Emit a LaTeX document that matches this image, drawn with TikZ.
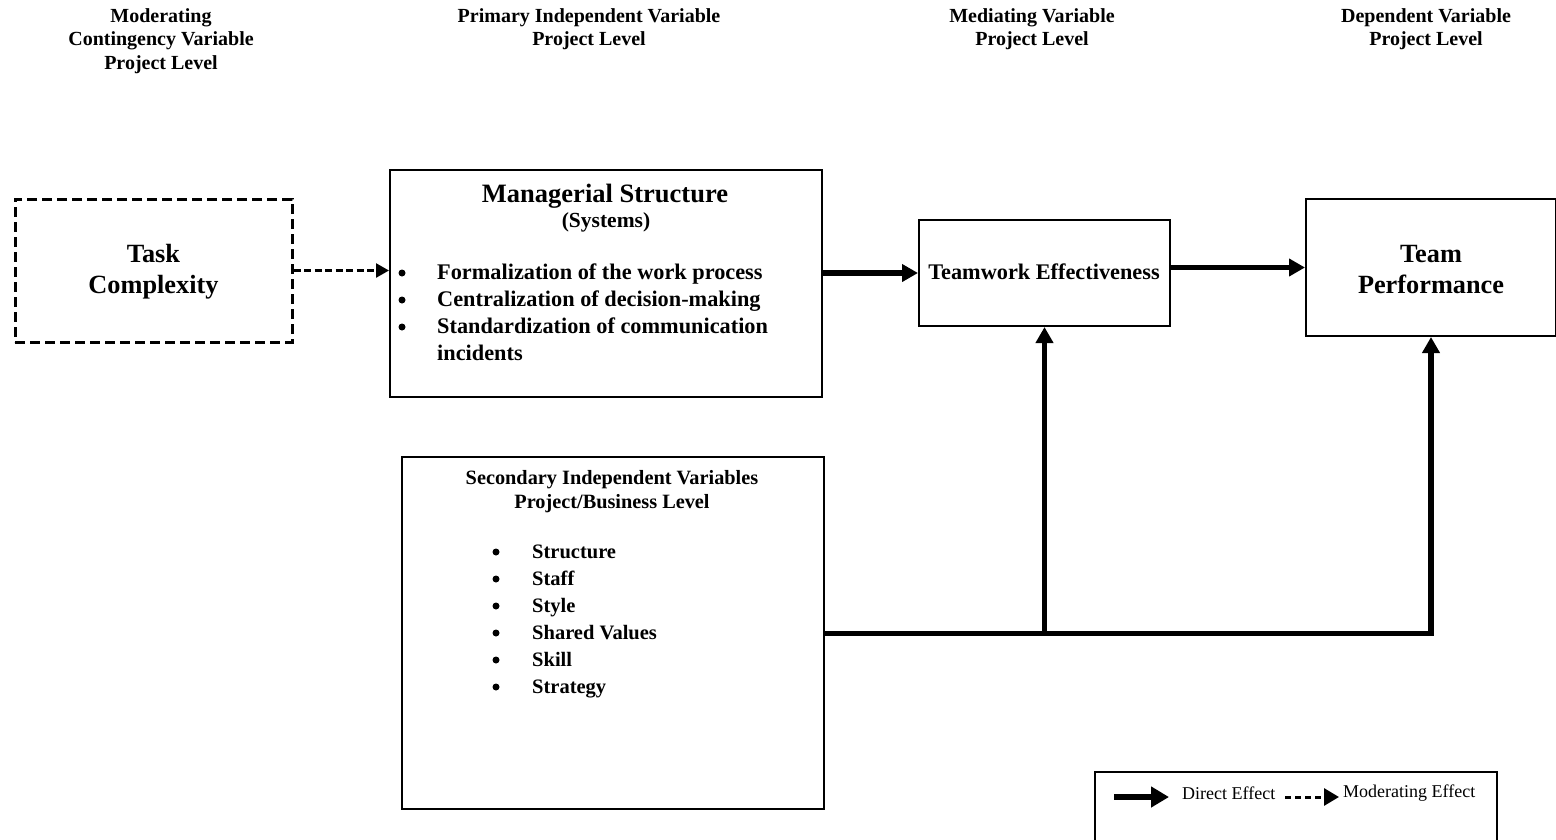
\documentclass[tikz,border=0pt]{standalone}
\usepackage{fontspec}
\setmainfont{Liberation Serif}
\usetikzlibrary{arrows.meta}
\begin{document}
\begin{tikzpicture}[x=1pt,y=-1pt,
  box/.style={draw, line width=2pt, inner sep=0pt},
  dbox/.style={draw, line width=3pt, dash pattern=on 10pt off 5pt, inner sep=0pt},
  hdr/.style={font=\bfseries\fontsize{20}{23.5}\selectfont, align=center, inner sep=0pt},
  big/.style={font=\bfseries\fontsize{26.3}{31}\selectfont, align=center, inner sep=0pt},
  item/.style={font=\bfseries\fontsize{22.3}{25}\selectfont, anchor=base west, inner sep=0pt},
  sitem/.style={font=\bfseries\fontsize{20.5}{24}\selectfont, anchor=base west, inner sep=0pt},
  bul/.style={circle, fill, inner sep=0pt, minimum size=7pt},
  legtext/.style={font=\fontsize{18}{21}\selectfont, anchor=west, inner sep=0pt},
  direct/.style={line width=5.5pt, -{Triangle[length=16pt,width=17pt]}},
  directline/.style={line width=5pt},
  moder/.style={line width=2.5pt, dash pattern=on 7pt off 3.5pt, -{Triangle[length=13pt,width=14pt]}},
  legmoder/.style={line width=3pt, dash pattern=on 6pt off 4pt, -{Triangle[length=15pt,width=17pt]}},
  legdirect/.style={line width=6pt, -{Triangle[length=18pt,width=20pt]}}
]
\useasboundingbox (0,0) rectangle (1556,839);

% column headings
\node[hdr] (h1) at (161,41) {Moderating\\Contingency Variable\\Project Level};
\node[hdr] (h2) at (589,29) {Primary Independent Variable\\Project Level};
\node[hdr] (h3) at (1032,29) {Mediating Variable\\Project Level};
\node[hdr] (h4) at (1426,29) {Dependent Variable\\Project Level};

% boxes
\node[dbox, minimum width=277pt, minimum height=143pt] (tc) at (153.5,270.5) {};
\node[big] (tct) at (153.5,272) {Task\\Complexity};

\node[box, minimum width=432pt, minimum height=227pt] (ms) at (606,283.5) {};
\node[font=\bfseries\fontsize{26.5}{30}\selectfont, inner sep=0pt] (mst) at (605,196) {Managerial Structure};
\node[font=\bfseries\fontsize{21.5}{24}\selectfont, inner sep=0pt] (mss) at (606,222) {(Systems)};
\node[bul] (mb1) at (402,273) {};
\node[bul] (mb2) at (402,300) {};
\node[bul] (mb3) at (402,327) {};
\node[item] (mi1) at (437,279) {Formalization of the work process};
\node[item] (mi2) at (437,306) {Centralization of decision-making};
\node[item] (mi3) at (437,333) {Standardization of communication};
\node[item] (mi4) at (437,360) {incidents};

\node[box, minimum width=251pt, minimum height=106pt] (tw) at (1044.5,273) {};
\node[font=\bfseries\fontsize{22.3}{25}\selectfont, inner sep=0pt, anchor=base] (twt) at (1044,279) {Teamwork Effectiveness};

\node[box, minimum width=250pt, minimum height=137pt] (tp) at (1431,267.5) {};
\node[big] (tpt) at (1431,270) {Team\\Performance};

\node[box, minimum width=422pt, minimum height=352pt] (sv) at (613,633) {};
\node[font=\bfseries\fontsize{20.3}{24}\selectfont, align=center, inner sep=0pt] (svt) at (612,492) {Secondary Independent Variables\\Project/Business Level};
\foreach \n/\t [count=\i] in {551/Structure,578/Staff,605/Style,632/Shared Values,659/Skill,686/Strategy}{
  \node[bul] (sb\i) at (496,\n+1) {};
  \node[sitem] (si\i) at (532,\n+7) {\t};
}

% legend
\node[box, minimum width=402pt, minimum height=90pt] (lg) at (1296,817) {};
\coordinate (la1) at (1114,797);
\coordinate (la2) at (1169,797);
\coordinate (lb1) at (1285,797);
\coordinate (lb2) at (1339,797);
\draw[legdirect] (la1) -- (la2);
\draw[legmoder] (lb1) -- (lb2);
\node[legtext] (l1) at (1182,793) {Direct Effect};
\node[legtext] (l2) at (1343,793) {Moderating Effect};

% connectors
\draw[moder] (tc.east) -- (tc.east -| ms.west);
\draw[direct] (tw.west -| ms.east) -- (tw.west);
\draw[direct] (tp.west -| tw.east) -- (tp.west);
\draw[directline] (sv.east) -- (sv.east -| tp.south);
\draw[direct] ([yshift=-2.5pt]sv.east -| tp.south) -- (tp.south);
\draw[direct] (sv.east -| tw.south) -- (tw.south);
\end{tikzpicture}
\end{document}
